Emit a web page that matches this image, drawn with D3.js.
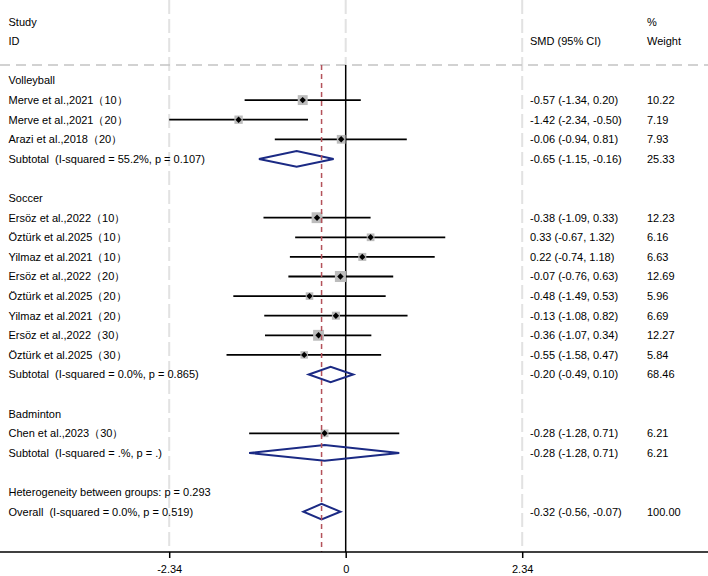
<!DOCTYPE html>
<html>
<head>
<meta charset="utf-8">
<script src="https://cdn.jsdelivr.net/npm/d3@7"></script>
<style>
  body { margin: 0; background: #fff; }
  text { font-family: "Liberation Sans", Arial, sans-serif; font-size: 11px; fill: #000; white-space: pre; }
</style>
</head>
<body>
<script>
// forest plot: SMD by sport subgroup

const groups = ["Volleyball", "Soccer", "Badminton"];

const studyLabels = [
  "Merve et al.,2021（10）", "Merve et al.,2021（20）", "Arazi et al.,2018（20）",
  "Ersöz et al.,2022（10）", "Öztürk et al.2025（10）", "Yilmaz et al.2021（10）",
  "Ersöz et al.,2022（20）", "Öztürk et al.2025（20）", "Yilmaz et al.2021（20）",
  "Ersöz et al.,2022（30）", "Öztürk et al.2025（30）",
  "Chen et al.,2023（30）"
];
const studyGroup = [0, 0, 0, 1, 1, 1, 1, 1, 1, 1, 1, 2];
const studySmd   = [-0.57, -1.42, -0.06, -0.38, 0.33, 0.22, -0.07, -0.48, -0.13, -0.36, -0.55, -0.28];
const studyLo    = [-1.34, -2.34, -0.94, -1.09, -0.67, -0.74, -0.76, -1.49, -1.08, -1.07, -1.58, -1.28];
const studyHi    = [0.20, -0.50, 0.81, 0.33, 1.32, 1.18, 0.63, 0.53, 0.82, 0.34, 0.47, 0.71];
const studyWt    = [10.22, 7.19, 7.93, 12.23, 6.16, 6.63, 12.69, 5.96, 6.69, 12.27, 5.84, 6.21];

const subLabels = [
  "Subtotal  (I-squared = 55.2%, p = 0.107)",
  "Subtotal  (I-squared = 0.0%, p = 0.865)",
  "Subtotal  (I-squared = .%, p = .)"
];
const subSmd = [-0.65, -0.20, -0.28];
const subLo  = [-1.15, -0.49, -1.28];
const subHi  = [-0.16, 0.10, 0.71];
const subWt  = [25.33, 68.46, 6.21];

const hetText = "Heterogeneity between groups: p = 0.293";
const overallLabel = "Overall  (I-squared = 0.0%, p = 0.519)";
const overall = { smd: -0.32, lo: -0.56, hi: -0.07, wt: 100.00 };

const tickValues = [-2.34, 0, 2.34];

const W = 708, H = 576;
const svg = d3.select("body").append("svg")
  .attr("width", W).attr("height", H);

// build the row list
const rows = [];
groups.forEach((g, gi) => {
  rows.push({ kind: "group", label: g });
  studyLabels.forEach((lab, i) => {
    if (studyGroup[i] !== gi) return;
    rows.push({ kind: "study", label: lab, smd: studySmd[i], lo: studyLo[i], hi: studyHi[i], wt: studyWt[i] });
  });
  rows.push({ kind: "sub", label: subLabels[gi], smd: subSmd[gi], lo: subLo[gi], hi: subHi[gi], wt: subWt[gi] });
  rows.push({ kind: "blank" });
});
rows.push({ kind: "het", label: hetText });
rows.push({ kind: "sub", label: overallLabel, smd: overall.smd, lo: overall.lo, hi: overall.hi, wt: overall.wt });
rows.forEach((r, i) => r.k = i);

const x = d3.scaleLinear().domain([-2.34, 2.34]).range([169.2, 522.2]);
const y = d3.scaleLinear().domain([0, rows.length - 1]).range([80.5, 511.7]);

const topY = 65, axisY = 552;
const fmt = n => n.toFixed(2);   // plain hyphen minus, like the original

// light background grid lines
svg.selectAll("line.vgrid")
  .data([-2.34, 2.34])
  .enter().append("line")
  .attr("x1", d => x(d)).attr("x2", d => x(d))
  .attr("y1", 0).attr("y2", axisY)
  .attr("stroke", "#e2e2e2").attr("stroke-width", 2)
  .attr("stroke-dasharray", "14,5");

svg.append("line")
  .attr("x1", x(0)).attr("x2", x(0))
  .attr("y1", 0).attr("y2", topY)
  .attr("stroke", "#e2e2e2").attr("stroke-width", 2)
  .attr("stroke-dasharray", "14,5");

svg.append("line")
  .attr("x1", 0).attr("x2", W)
  .attr("y1", topY).attr("y2", topY)
  .attr("stroke", "#c4c4c4").attr("stroke-width", 1.5)
  .attr("stroke-dasharray", "10,6");

// header
svg.append("text").attr("x", 8.5).attr("y", 21.7).attr("dy", "0.35em").text("Study");
svg.append("text").attr("x", 8.5).attr("y", 41.3).attr("dy", "0.35em").text("ID");
svg.append("text").attr("x", 530).attr("y", 41.3).attr("dy", "0.35em").text("SMD (95% CI)");
svg.append("text").attr("x", 647).attr("y", 21.7).attr("dy", "0.35em").text("%");
svg.append("text").attr("x", 647).attr("y", 41.3).attr("dy", "0.35em").text("Weight");

// zero line
svg.append("line")
  .attr("x1", x(0)).attr("x2", x(0))
  .attr("y1", topY).attr("y2", axisY)
  .attr("stroke", "#000").attr("stroke-width", 1.5);

const studies = rows.filter(r => r.kind === "study");
const subs = rows.filter(r => r.kind === "sub");

// CI lines
svg.selectAll("line.ci")
  .data(studies)
  .enter().append("line")
  .attr("x1", d => x(d.lo)).attr("x2", d => x(d.hi))
  .attr("y1", d => y(d.k)).attr("y2", d => y(d.k))
  .attr("stroke", "#000").attr("stroke-width", 1.8);

// weight boxes
svg.selectAll("rect.box")
  .data(studies)
  .enter().append("rect")
  .attr("x", d => x(d.smd) - 1.55 * Math.sqrt(d.wt))
  .attr("y", d => y(d.k) - 1.55 * Math.sqrt(d.wt))
  .attr("width", d => 3.1 * Math.sqrt(d.wt))
  .attr("height", d => 3.1 * Math.sqrt(d.wt))
  .attr("fill", "#bcbcbc");

// point estimate markers
svg.selectAll("path.pt")
  .data(studies)
  .enter().append("path")
  .attr("d", d => {
    const cx = x(d.smd), cy = y(d.k), s = 3.2;
    return `M${cx - s},${cy}L${cx},${cy - s}L${cx + s},${cy}L${cx},${cy + s}Z`;
  })
  .attr("fill", "#000");

// pooled diamonds
svg.selectAll("path.diamond")
  .data(subs)
  .enter().append("path")
  .attr("d", d => {
    const cy = y(d.k), h = 7.8;
    return `M${x(d.lo)},${cy}L${x(d.smd)},${cy - h}L${x(d.hi)},${cy}L${x(d.smd)},${cy + h}Z`;
  })
  .attr("fill", "none")
  .attr("stroke", "#1b2a84").attr("stroke-width", 2);

// overall effect line
svg.append("line")
  .attr("x1", x(overall.smd)).attr("x2", x(overall.smd))
  .attr("y1", topY).attr("y2", axisY)
  .attr("stroke", "#b4525a").attr("stroke-width", 1.5)
  .attr("stroke-dasharray", "5,4");

// left labels
svg.selectAll("text.lab")
  .data(rows.filter(r => r.label))
  .enter().append("text")
  .attr("x", 8.5).attr("y", d => y(d.k)).attr("dy", "0.35em")
  .text(d => d.label);

// right columns
const valued = rows.filter(r => r.smd !== undefined);
svg.selectAll("text.est")
  .data(valued)
  .enter().append("text")
  .attr("x", 530).attr("y", d => y(d.k)).attr("dy", "0.35em")
  .text(d => `${fmt(d.smd)} (${fmt(d.lo)}, ${fmt(d.hi)})`);

svg.selectAll("text.wt")
  .data(valued)
  .enter().append("text")
  .attr("x", 647).attr("y", d => y(d.k)).attr("dy", "0.35em")
  .text(d => fmt(d.wt));

// x axis
svg.append("line")
  .attr("x1", 0).attr("x2", W)
  .attr("y1", axisY).attr("y2", axisY)
  .attr("stroke", "#000").attr("stroke-width", 1.5);

const axis = svg.append("g")
  .attr("transform", `translate(0,${axisY})`)
  .call(d3.axisBottom(x).tickValues(tickValues).tickSize(6).tickPadding(7).tickFormat(d => d));
axis.select(".domain").remove();
axis.selectAll(".tick line").attr("stroke", "#000").attr("stroke-width", 1.5);
axis.selectAll(".tick text")
  .style("font-family", "\"Liberation Sans\", Arial, sans-serif")
  .style("font-size", "11px").attr("fill", "#000");
</script>
</body>
</html>
